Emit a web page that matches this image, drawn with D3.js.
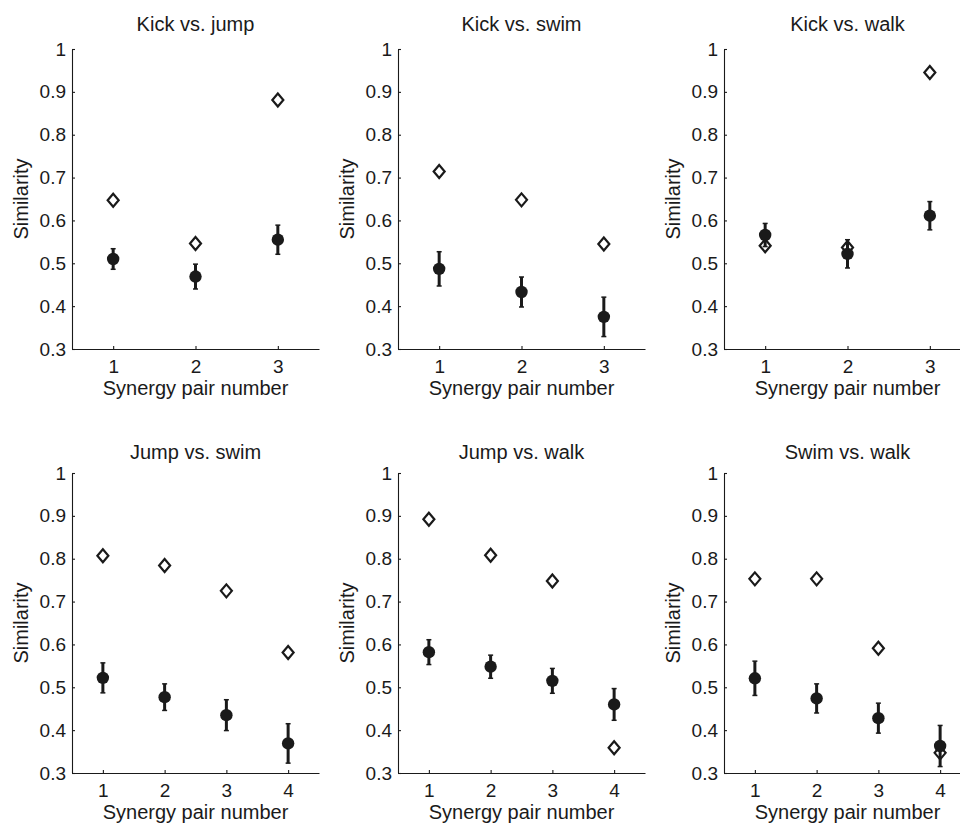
<!DOCTYPE html>
<html>
<head>
<meta charset="utf-8">
<script src="https://cdn.jsdelivr.net/npm/d3@7"></script>
<style>
  body { margin: 0; background: #fff; }
  svg { display: block; font-family: "Liberation Sans", Arial, sans-serif; }
</style>
</head>
<body>
<div id="chart"></div>
<script>
// panel titles, in reading order
var titles = ["Kick vs. jump", "Kick vs. swim", "Kick vs. walk",
              "Jump vs. swim", "Jump vs. walk", "Swim vs. walk"];

// open diamonds
var diamondVals = [
  [0.647, 0.546, 0.881],
  [0.714, 0.648, 0.545],
  [0.541, 0.537, 0.945],
  [0.807, 0.784, 0.725, 0.581],
  [0.892, 0.808, 0.748, 0.359],
  [0.753, 0.753, 0.591, 0.347]
];

// filled circles (mean) and error bar half-length
var meanVals = [
  [0.510, 0.469, 0.555],
  [0.487, 0.433, 0.375],
  [0.566, 0.522, 0.611],
  [0.522, 0.477, 0.435, 0.369],
  [0.582, 0.548, 0.515, 0.460],
  [0.521, 0.474, 0.428, 0.363]
];
var errVals = [
  [0.024, 0.029, 0.034],
  [0.040, 0.035, 0.046],
  [0.027, 0.033, 0.033],
  [0.035, 0.031, 0.036, 0.046],
  [0.029, 0.027, 0.029, 0.037],
  [0.040, 0.034, 0.035, 0.048]
];

var yTicks = [0.3, 0.4, 0.5, 0.6, 0.7, 0.8, 0.9, 1];

var W = 960, H = 824;
var ink = "#1a1a1a";
var fontSize = 20;
var tickFont = 19;

var svg = d3.select("#chart").append("svg")
  .attr("width", W)
  .attr("height", H);

// panel layout
var colLeft = [72, 398, 724];
var rowTop = [49, 473];
var plotW = 247, plotH = 300;
var titleY = [31, 459];

titles.forEach(function (title, i) {
  var col = i % 3, row = Math.floor(i / 3);
  var n = meanVals[i].length;
  var pairs = d3.range(1, n + 1);

  var x = d3.scaleLinear().domain([0.5, n + 0.5]).range([0, plotW]);
  var y = d3.scaleLinear().domain([0.3, 1]).range([plotH, 0]);

  var g = svg.append("g")
    .attr("transform", "translate(" + colLeft[col] + "," + rowTop[row] + ")");

  // axes
  var xAxis = g.append("g")
    .attr("transform", "translate(0," + plotH + ")")
    .call(d3.axisBottom(x).tickValues(pairs).tickFormat(d3.format("d"))
      .tickSizeInner(-3).tickSizeOuter(0).tickPadding(11));

  var yAxis = g.append("g")
    .call(d3.axisLeft(y).tickValues(yTicks)
      .tickFormat(function (d) { return d === 1 ? "1" : d3.format(".1f")(d); })
      .tickSizeInner(-3).tickSizeOuter(0).tickPadding(6));

  [xAxis, yAxis].forEach(function (a) {
    a.select(".domain").attr("stroke", ink).attr("stroke-width", 1.1);
    a.selectAll(".tick line").attr("stroke", ink).attr("stroke-width", 1.1);
    a.selectAll(".tick text").attr("fill", ink)
      .style("font-size", tickFont + "px")
      .style("font-family", "Liberation Sans, Arial, sans-serif");
  });

  // title
  svg.append("text")
    .attr("x", colLeft[col] + plotW / 2)
    .attr("y", titleY[row])
    .attr("text-anchor", "middle")
    .attr("fill", ink)
    .style("font-size", fontSize + "px")
    .text(title);

  // y label
  g.append("text")
    .attr("transform", "translate(-44," + (plotH / 2) + ") rotate(-90)")
    .attr("text-anchor", "middle")
    .attr("fill", ink)
    .style("font-size", fontSize + "px")
    .text("Similarity");

  // x label
  g.append("text")
    .attr("x", plotW / 2)
    .attr("y", plotH + 46)
    .attr("text-anchor", "middle")
    .attr("fill", ink)
    .style("font-size", fontSize + "px")
    .text("Synergy pair number");

  // diamonds
  var diamond = function (d, j) {
    var cx = x(j + 1), cy = y(d);
    return "M" + cx + "," + (cy - 6.5) + "L" + (cx + 5.5) + "," + cy +
           "L" + cx + "," + (cy + 6.5) + "L" + (cx - 5.5) + "," + cy + "Z";
  };
  g.selectAll(".dia")
    .data(diamondVals[i])
    .enter().append("path")
      .attr("class", "dia")
      .attr("d", diamond)
      .attr("fill", "#fff")
      .attr("stroke", ink)
      .attr("stroke-width", 2.2);

  // error bars
  var bars = g.selectAll(".err")
    .data(meanVals[i])
    .enter().append("g")
      .attr("class", "err");
  bars.append("line")
    .attr("x1", function (d, j) { return x(j + 1); })
    .attr("x2", function (d, j) { return x(j + 1); })
    .attr("y1", function (d, j) { return y(d - errVals[i][j]); })
    .attr("y2", function (d, j) { return y(d + errVals[i][j]); })
    .attr("stroke", ink)
    .attr("stroke-width", 3);
  ["-", "+"].forEach(function (s) {
    bars.append("line")
      .attr("x1", function (d, j) { return x(j + 1) - 2.5; })
      .attr("x2", function (d, j) { return x(j + 1) + 2.5; })
      .attr("y1", function (d, j) { return y(s === "+" ? d + errVals[i][j] : d - errVals[i][j]); })
      .attr("y2", function (d, j) { return y(s === "+" ? d + errVals[i][j] : d - errVals[i][j]); })
      .attr("stroke", ink)
      .attr("stroke-width", 1.5);
  });

  // mean circles
  g.selectAll(".dot")
    .data(meanVals[i])
    .enter().append("circle")
      .attr("class", "dot")
      .attr("cx", function (d, j) { return x(j + 1); })
      .attr("cy", function (d) { return y(d); })
      .attr("r", 6.2)
      .attr("fill", ink);
});
</script>
</body>
</html>
